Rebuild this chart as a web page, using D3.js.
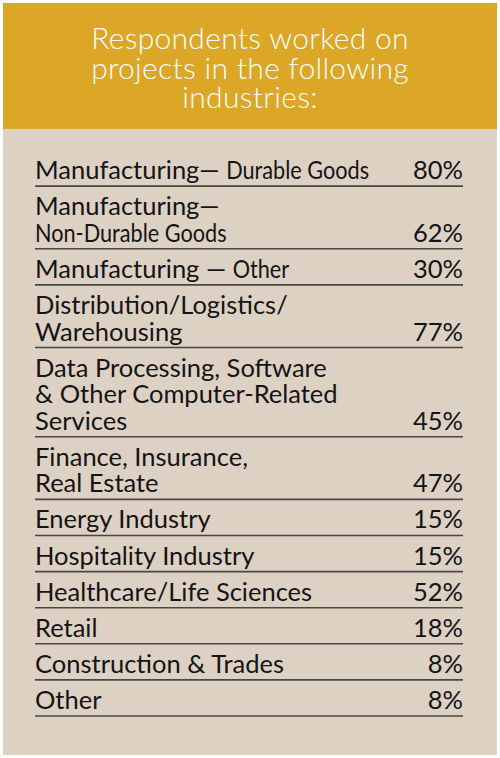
<!DOCTYPE html>
<html>
<head>
<meta charset="utf-8">
<script src="https://cdn.jsdelivr.net/npm/d3@7"></script>
<style>
  body { margin: 0; background: #fff; }
  text { font-family: Lato, "Open Sans", sans-serif; }
</style>
</head>
<body>
<script>
//title lines
var titleLines = ["Respondents worked on", "projects in the following", "industries:"];
//industry labels: "|" breaks a line, {...} is set condensed
var labels = [
    "Manufacturing\u2014 {Durable Goods}",
    "Manufacturing\u2014|{Non-Durable Goods}",
    "Manufacturing \u2014 {Other}",
    "Distribution/Logistics/|Warehousing",
    "Data Processing, Software|& Other Computer-Related|Services",
    "Finance, Insurance,|Real Estate",
    "Energy Industry",
    "Hospitality Industry",
    "Healthcare/Life Sciences",
    "Retail",
    "Construction & Trades",
    "Other"
];
//share of respondents (%)
var values = [80, 62, 30, 77, 45, 47, 15, 15, 52, 18, 8, 8];

window.onload = function(){
    var w = 500, h = 758;
    var svg = d3.select("body").append("svg")
        .attr("width", w)
        .attr("height", h);

    //panels
    svg.append("rect")
        .attr("x", 3).attr("y", 3)
        .attr("width", 494).attr("height", 752)
        .style("fill", "#ddd1c4");
    svg.append("rect")
        .attr("x", 3).attr("y", 3)
        .attr("width", 494).attr("height", 126)
        .style("fill", "#dca627");

    //title, one text per line
    svg.selectAll(".title")
        .data(titleLines)
        .enter()
        .append("text")
        .attr("class", "title")
        .attr("text-anchor", "middle")
        .attr("x", 250)
        .attr("y", function(d, i){ return 49 + i * 29.5; })
        .style("font-size", "30px")
        .style("font-weight", 300)
        .style("letter-spacing", "0.3px")
        .style("fill", "#fff")
        .text(function(d){ return d; });

    //rows: height in line units, one line plus padding
    var pad = 0.36;
    var rows = labels.map(function(d, i){
        return { lines: d.split("|"), value: values[i] };
    });
    var acc = 0;
    rows.forEach(function(r){
        r.start = acc;
        acc += r.lines.length + pad;
        r.end = acc;
    });

    var y = d3.scaleLinear()
        .domain([0, acc])
        .range([150, 716]);
    var x = d3.scaleLinear()
        .domain([0, 1])
        .range([35, 463]);
    var lineH = y(1) - y(0);

    var row = svg.selectAll(".row")
        .data(rows)
        .enter()
        .append("g")
        .attr("class", "row");

    //rule under each row
    row.append("line")
        .attr("x1", x(0)).attr("x2", x(1))
        .attr("y1", function(d){ return y(d.end); })
        .attr("y2", function(d){ return y(d.end); })
        .style("stroke", "#4a4644")
        .style("stroke-width", 1.6);

    //percent, on the last text line
    row.append("text")
        .attr("text-anchor", "end")
        .attr("x", x(1))
        .attr("y", function(d){ return y(d.end) - 7; })
        .style("font-size", "25.5px")
        .style("fill", "#141414")
        .text(function(d){ return d.value + "%"; });

    //label lines, split into normal and condensed pieces
    row.each(function(d){
        var g = d3.select(this);
        var n = d.lines.length;
        d.lines.forEach(function(line, j){
            var base = y(d.end) - 7 - (n - 1 - j) * lineH;
            var cx = x(0);
            line.split(/(\{[^}]*\})/).filter(function(s){ return s.length; }).forEach(function(s){
                var cond = s.charAt(0) === "{";
                var str = cond ? s.slice(1, -1) : s;
                var k = cond ? 0.85 : 1;
                var t = g.append("text")
                    .attr("transform", "translate(" + cx + "," + base + ") scale(" + k + ",1)")
                    .style("font-size", "25.5px")
                    .style("fill", "#141414")
                    .style("white-space", "pre")
                    .text(str);
                cx += t.node().getComputedTextLength() * k;
            });
        });
    });
};
</script>
</body>
</html>
